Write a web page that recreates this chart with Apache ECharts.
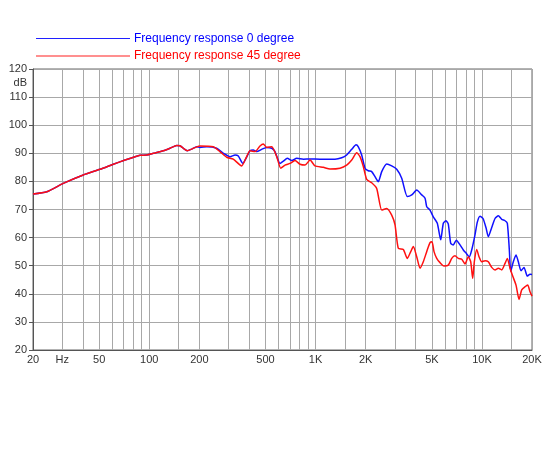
<!DOCTYPE html>
<html>
<head>
<meta charset="utf-8">
<script src="https://cdn.jsdelivr.net/npm/echarts@6/dist/echarts.min.js"></script>
<style>
html,body{margin:0;padding:0;background:#fff;}
#chart{width:550px;height:450px;}
</style>
</head>
<body>
<div id="chart"></div>
<script>
// ---- data ----
const seriesNames = ['Frequency response 0 degree', 'Frequency response 45 degree'];

const blueFreq = [20,24.2,30.4,40.1,50.6,60.8,71.5,82.1,88,96.5,105.8,121.5,133.3,146.2,153,160.2,169.3,180,192.8,201.8,221.6,254,279,306,328,343,365,385,403,422,443,474,508,545,570,611,640,676,719,770,844,926,1063,1221,1308,1435,1538,1649,1750,1807,1893,1982,2074,2174,2276,2382,2498,2676,2868,3074,3294,3560,3784,4054,4346,4550,4656,4874,5100,5392,5652,5860,6082,6278,6490,6728,7014,7382,7728,8098,8384,8680,9086,9382,9738,10152,10582,10924,11452,11988,12550,13154,13770,14216,14614,14894,15442,16030,16552,17180,17908,18748,19460,20000];
const blueDb = [75.5,76.3,79.3,82.3,84.3,86.1,87.6,88.8,89.3,89.4,90.0,90.9,91.8,92.8,92.7,91.8,90.9,91.5,92.3,92.1,92.3,91.8,90.0,88.8,89.4,89.0,86.4,88.6,90.9,91.2,90.6,91.4,92.1,91.8,90.6,86.4,87.2,88.2,87.4,88.2,87.9,88.0,87.9,87.9,87.9,88.4,89.4,91.4,93.0,92.3,89.4,84.7,83.8,83.5,81.7,79.9,83.5,86.2,85.5,84.3,81.1,74.6,75.2,76.9,75.2,74.0,71.0,69.8,67.4,65.1,59.2,65.1,66.0,64.8,58.0,57.4,59.1,57.4,55.6,54.2,53.1,55.6,61.0,65.5,67.6,66.8,63.5,60.3,63.6,66.8,67.8,66.5,66.0,65.1,55.6,48.0,51.4,53.8,51.4,48.2,49.4,46.3,47.0,46.9];

const redFreq = [20,24.2,30.4,40.1,50.6,60.8,71.5,82.1,88,96.5,105.8,121.5,133.3,146.2,153,160.2,169.3,180,192.8,201.8,242.7,266,292,320,359,385,403,432,463,485,508,545,584,617,655,702,752,806,864,926,992,1113,1221,1402,1538,1649,1767,1849,1936,2029,2174,2330,2498,2676,2868,3003,3142,3368,3560,3732,3868,4054,4244,4442,4656,4874,5010,5152,5348,5598,5916,6278,6582,6888,7212,7560,7912,8282,8562,8802,9000,9304,9604,9970,10438,10924,11452,11988,12550,13154,13770,14216,14756,15312,16030,16710,17344,18156,18848,19460,20000];
const redDb = [75.5,76.3,79.3,82.3,84.3,86.1,87.6,88.8,89.3,89.4,90.0,90.9,91.8,92.8,92.7,91.8,90.9,91.5,92.3,92.6,92.3,90.6,88.6,87.9,85.5,88.8,90.9,90.6,92.6,93.3,92.1,92.3,88.8,84.7,85.8,86.4,87.4,86.1,85.8,87.6,85.5,85.0,84.4,84.7,85.8,87.6,90.2,88.8,85.3,80.7,79.5,77.5,69.8,70.4,68.0,64.5,56.2,55.8,52.6,55.0,56.8,53.2,49.1,51.4,55.0,58.2,58.5,55.0,52.6,51.1,49.9,50.2,52.6,53.5,52.6,52.3,50.6,53.2,51.4,45.5,51.4,55.8,53.2,51.4,51.8,51.4,49.4,48.5,49.1,48.5,50.8,52.6,49.1,46.3,43.1,38.0,41.4,42.5,43.1,40.7,39.2];

const xGridValues = [20,30,40,50,60,70,80,90,100,150,200,300,400,500,600,700,800,900,1000,1500,2000,3000,4000,5000,6000,7000,8000,9000,10000,15000,20000];
const xLabelValues = [20,30,50,100,200,500,1000,2000,5000,10000,20000];
const xLabelTexts = ['20','Hz','50','100','200','500','1K','2K','5K','10K','20K'];
const yLabelValues = [20,30,40,50,60,70,80,90,100,110,115,120];
const yLabelTexts = ['20','30','40','50','60','70','80','90','100','110','dB','120'];

// ---- build ----
const zip = (a, b) => a.map((v, i) => [v, b[i]]);
const FONT = '"Liberation Sans", Arial, sans-serif';

const chart = echarts.init(document.getElementById('chart'), null, {renderer: 'canvas'});
chart.setOption({
  animation: false,
  backgroundColor: '#fff',
  grid: {left: 33, right: 18, top: 69, bottom: 100, show: true, borderColor: '#666', borderWidth: 1},
  legend: {
    orient: 'vertical', left: 36, top: 32.5, padding: 0,
    icon: 'rect', itemWidth: 94, itemHeight: 1.2, itemGap: 5.5,
    selectedMode: false,
    textStyle: {fontSize: 12, fontFamily: FONT, padding: [0, 0, 0, -1]},
    data: [
      {name: seriesNames[0], textStyle: {color: '#0000ff'}, itemStyle: {color: '#2020ff'}},
      {name: seriesNames[1], textStyle: {color: '#ff0000'}, itemStyle: {color: '#ff2020'}}
    ]
  },
  xAxis: {
    type: 'log', logBase: 10, min: 20, max: 20000,
    axisLine: {show: true, lineStyle: {color: '#555', width: 1}},
    axisTick: {show: false, customValues: xGridValues},
    splitLine: {show: true, lineStyle: {color: '#a8a8a8', width: 1}},
    minorSplitLine: {show: false},
    axisLabel: {
      customValues: xLabelValues, margin: 4, color: '#333', fontSize: 11, fontFamily: FONT,
      formatter: function (v) {
        let best = 0, d = Infinity;
        xLabelValues.forEach((lv, i) => { const dd = Math.abs(Math.log10(lv) - Math.log10(v)); if (dd < d) { d = dd; best = i; } });
        return xLabelTexts[best];
      }
    }
  },
  yAxis: {
    type: 'value', min: 20, max: 120, interval: 10,
    axisLine: {show: true, lineStyle: {color: '#555', width: 1}},
    axisTick: {show: true, length: 4, lineStyle: {color: '#555'}},
    splitLine: {show: true, lineStyle: {color: '#a8a8a8', width: 1}},
    axisLabel: {
      customValues: yLabelValues, margin: 6, color: '#333', fontSize: 11, fontFamily: FONT,
      formatter: function (v) {
        const i = yLabelValues.findIndex(x => Math.abs(x - v) < 0.01);
        return i >= 0 ? yLabelTexts[i] : '';
      }
    }
  },
  series: [
    {name: seriesNames[0], type: 'line', data: zip(blueFreq, blueDb), symbol: 'none', smooth: 0.2,
     lineStyle: {color: '#1010ff', width: 1.5}, itemStyle: {color: '#1010ff'}, z: 3},
    {name: seriesNames[1], type: 'line', data: zip(redFreq, redDb), symbol: 'none', smooth: 0.2,
     lineStyle: {color: '#ff1010', width: 1.5}, itemStyle: {color: '#ff1010'}, z: 4}
  ]
});
</script>
</body>
</html>
